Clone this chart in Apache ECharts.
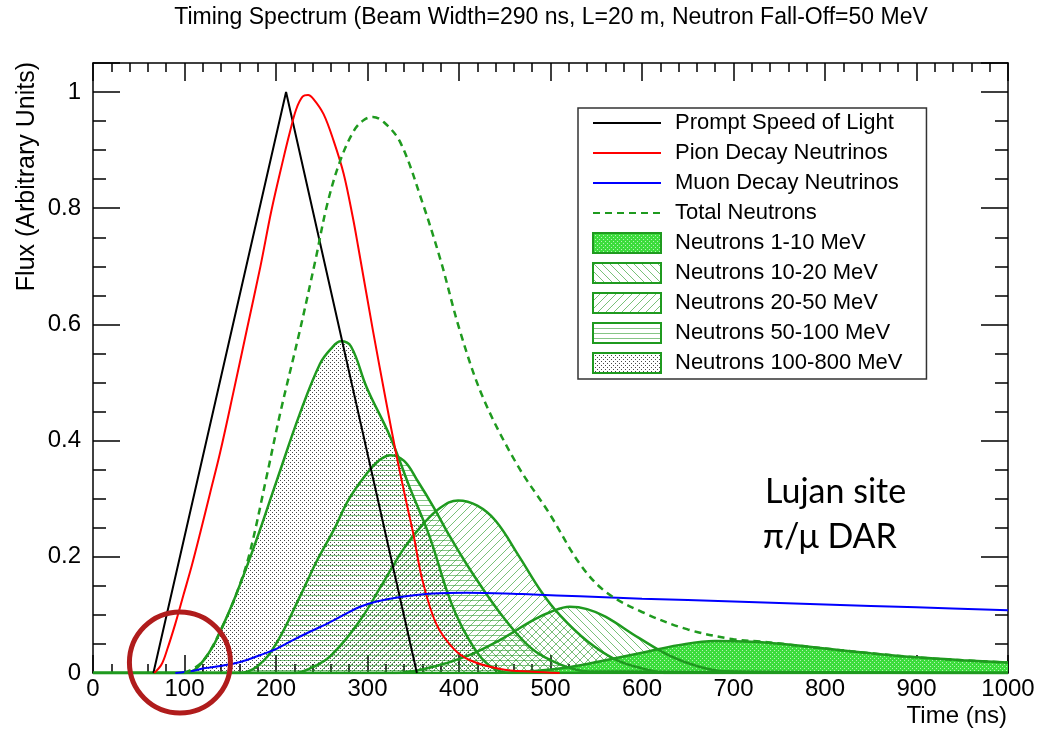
<!DOCTYPE html>
<html>
<head>
<meta charset="utf-8">
<script src="https://cdn.jsdelivr.net/npm/echarts@6/dist/echarts.min.js"></script>
<style>
  html, body { margin: 0; padding: 0; background: #fff; }
  #chart { width: 1039px; height: 729px; }
</style>
</head>
<body>
<div id="chart"></div>
<script>
// ---- data (time in ns, flux in arbitrary units) ----
const promptTime = [66, 211, 354];
const promptFlux = [0, 1.0, 0];

const pionTime = [67, 75, 81, 90, 99, 108, 117, 128, 139, 153, 168, 183, 195, 208, 215, 222, 229, 235, 241, 252, 263, 274, 284, 290, 306, 320, 332, 343, 350, 360, 375, 394, 412, 445, 480, 510];
const pionFlux = [0, 0.015, 0.04, 0.085, 0.135, 0.185, 0.24, 0.31, 0.38, 0.48, 0.59, 0.70, 0.796, 0.885, 0.93, 0.97, 0.992, 0.995, 0.988, 0.962, 0.916, 0.859, 0.784, 0.732, 0.589, 0.47, 0.372, 0.29, 0.24, 0.16, 0.085, 0.042, 0.022, 0.007, 0.002, 0];

const muonTime = [90, 110, 121, 139, 161, 183, 201, 219, 237, 256, 274, 292, 310, 336, 372, 408, 450, 481, 532, 600, 700, 800, 900, 1000];
const muonFlux = [0, 0.004, 0.008, 0.012, 0.019, 0.031, 0.042, 0.057, 0.071, 0.085, 0.1, 0.114, 0.123, 0.131, 0.137, 0.138, 0.137, 0.135, 0.132, 0.128, 0.123, 0.118, 0.113, 0.108];

const totalTime = [100, 120, 143, 160, 172, 190, 205, 226, 243, 256, 270, 285, 296, 306, 318, 336, 360, 380, 401, 426, 463, 499, 532, 560, 600, 650, 700, 730, 760, 800, 850, 900, 950, 1000];
const totalFlux = [0, 0.02, 0.085, 0.15, 0.211, 0.34, 0.45, 0.589, 0.71, 0.807, 0.881, 0.933, 0.952, 0.957, 0.948, 0.913, 0.81, 0.71, 0.589, 0.475, 0.36, 0.274, 0.188, 0.14, 0.105, 0.075, 0.058, 0.054, 0.049, 0.042, 0.034, 0.027, 0.022, 0.018];

const n1to10Time = [0, 430, 480, 520, 560, 600, 640, 680, 720, 760, 800, 850, 900, 950, 1000];
const n1to10Flux = [0, 0, 0.003, 0.01, 0.022, 0.035, 0.048, 0.055, 0.054, 0.049, 0.042, 0.034, 0.027, 0.022, 0.018];

const n10to20Time = [0, 330, 370, 410, 445, 481, 500, 521, 540, 560, 597, 630, 660, 690, 1000];
const n10to20Flux = [0, 0, 0.01, 0.03, 0.057, 0.091, 0.105, 0.114, 0.11, 0.097, 0.06, 0.03, 0.012, 0.003, 0];

const n20to50Time = [0, 220, 240, 260, 292, 315, 340, 360, 380, 399, 420, 440, 466, 490, 510, 540, 570, 600, 630, 1000];
const n20to50Flux = [0, 0, 0.01, 0.03, 0.091, 0.15, 0.215, 0.255, 0.285, 0.297, 0.288, 0.262, 0.2, 0.14, 0.1, 0.055, 0.024, 0.008, 0, 0];

const n50to100Time = [0, 160, 180, 200, 226, 245, 263, 280, 299, 312, 325, 340, 355, 372, 390, 408, 426, 445, 463, 481, 500, 517, 540, 1000];
const n50to100Flux = [0, 0, 0.012, 0.05, 0.131, 0.194, 0.246, 0.3, 0.343, 0.365, 0.375, 0.365, 0.33, 0.286, 0.235, 0.188, 0.145, 0.103, 0.068, 0.04, 0.022, 0.011, 0.003, 0];

const n100to800Time = [0, 100, 120, 143, 172, 201, 226, 248, 260, 271, 282, 299, 325, 346, 368, 387, 397, 410, 425, 440, 455, 1000];
const n100to800Flux = [0, 0, 0.02, 0.085, 0.2, 0.332, 0.446, 0.532, 0.558, 0.571, 0.562, 0.492, 0.406, 0.32, 0.234, 0.14, 0.1, 0.06, 0.025, 0.006, 0, 0];

// highlighted early-time region (centre in data units)
const markerCenter = [[95, 0.018]];

const xTickLabels = ['0', '100', '200', '300', '400', '500', '600', '700', '800', '900', '1000'];
const yTickLabels = { 0: '0', 0.2: '0.2', 0.4: '0.4', 0.6: '0.6', 0.8: '0.8', 1: '1' };

// ---- helpers ----
const zip = (xs, ys) => xs.map((x, i) => [x, ys[i]]);
const FONT = '"Liberation Sans", Arial, Helvetica, sans-serif';
const GREEN = '#1f9a1f';

function pattern(w, h, paint) {
  const c = document.createElement('canvas');
  c.width = w; c.height = h;
  paint(c.getContext('2d'), w, h);
  return { image: c, repeat: 'repeat' };
}
const fillDotsDark = pattern(4, 4, g => {
  g.fillStyle = 'rgba(0,0,0,0.72)';
  g.fillRect(0, 0, 1, 1); g.fillRect(2, 2, 1, 1);
});
const fillDotsGreen = pattern(4, 4, g => {
  g.fillStyle = '#3cdc3c'; g.fillRect(0, 0, 4, 4);
  g.fillStyle = '#b4f4b4';
  g.fillRect(0, 0, 1, 1); g.fillRect(2, 2, 1, 1);
});
const fillHoriz = pattern(4, 5, g => {
  g.fillStyle = 'rgba(34,150,34,0.55)'; g.fillRect(0, 0, 4, 1);
});
function diag(forward) {
  return pattern(8, 8, g => {
    g.strokeStyle = 'rgba(34,150,34,0.6)'; g.lineWidth = 1;
    g.beginPath();
    if (forward) {
      g.moveTo(-1, 9); g.lineTo(9, -1);
      g.moveTo(-1, 1); g.lineTo(1, -1);
      g.moveTo(7, 9); g.lineTo(9, 7);
    } else {
      g.moveTo(-1, -1); g.lineTo(9, 9);
      g.moveTo(-1, 7); g.lineTo(1, 9);
      g.moveTo(7, -1); g.lineTo(9, 1);
    }
    g.stroke();
  });
}
const fillSlash = diag(true);
const fillBackslash = diag(false);

function neutronBand(name, xs, ys, fill) {
  return {
    name, type: 'line', data: zip(xs, ys), symbol: 'none',
    smooth: 0.4,
    lineStyle: { color: GREEN, width: 2.5 },
    itemStyle: { color: GREEN },
    areaStyle: { color: fill, opacity: 1 },
    emphasis: { disabled: true }, silent: true
  };
}
function curve(name, xs, ys, color, extra) {
  return Object.assign({
    name, type: 'line', data: zip(xs, ys), symbol: 'none',
    lineStyle: { color, width: 2 }, itemStyle: { color },
    emphasis: { disabled: true }, silent: true
  }, extra || {});
}

const tickStyle = { color: '#000', width: 1.5 };
const lineStyle = { color: '#000', width: 1.5 };
function xAx(pos, labels) {
  return {
    type: 'value', position: pos, min: 0, max: 1000, interval: 100,
    axisLine: { show: true, onZero: false, lineStyle },
    axisTick: { show: true, inside: true, length: 18, lineStyle: tickStyle },
    minorTick: { show: true, splitNumber: 5, length: 9, lineStyle: tickStyle },
    axisLabel: {
      show: labels, margin: 4, fontSize: 24, color: '#000', fontFamily: FONT,
      formatter: v => xTickLabels[Math.round(v / 100)]
    },
    splitLine: { show: false }, minorSplitLine: { show: false }
  };
}
function yAx(pos, major, labels) {
  return {
    type: 'value', position: pos, min: 0, max: 1.05,
    interval: major ? 0.2 : 0.05,
    axisLine: { show: major, onZero: false, lineStyle },
    axisTick: { show: true, inside: true, length: major ? 27 : 13, lineStyle: tickStyle },
    axisLabel: {
      show: labels, margin: 12, fontSize: 24, color: '#000', fontFamily: FONT,
      formatter: v => { const k = Math.round(v * 10) / 10; return (k in yTickLabels && Math.abs(v - k) < 1e-6) ? yTickLabels[k] : ''; }
    },
    splitLine: { show: false }
  };
}

// line-type legend entries: keep only the stroke sample
const lineEntry = name => ({ name, itemStyle: { opacity: 0 } });
const bandEntry = (name, fill) => ({ name, icon: 'rect', itemStyle: { color: fill, borderColor: GREEN, borderWidth: 2 } });

const chart = echarts.init(document.getElementById('chart'), null, { renderer: 'canvas' });
chart.setOption({
  backgroundColor: '#fff',
  animation: false,
  grid: { left: 93, right: 31, top: 63, bottom: 56, containLabel: false },
  xAxis: [xAx('bottom', true), xAx('top', false)],
  yAxis: [yAx('left', true, true), yAx('left', false, false), yAx('right', true, false), yAx('right', false, false)],
  legend: {
    left: 578, top: 108, orient: 'vertical',
    itemWidth: 68, itemHeight: 20, itemGap: 8,
    padding: [4, 24, 5, 14],
    borderColor: '#333', borderWidth: 1.5, backgroundColor: '#fff',
    selectedMode: false,
    textStyle: { fontSize: 22, color: '#000', fontFamily: FONT, padding: [0, 0, 0, 9] },
    data: [
      lineEntry('Prompt Speed of Light'),
      lineEntry('Pion Decay Neutrinos'),
      lineEntry('Muon Decay Neutrinos'),
      lineEntry('Total Neutrons'),
      bandEntry('Neutrons 1-10 MeV', fillDotsGreen),
      bandEntry('Neutrons 10-20 MeV', fillBackslash),
      bandEntry('Neutrons 20-50 MeV', fillSlash),
      bandEntry('Neutrons 50-100 MeV', fillHoriz),
      bandEntry('Neutrons 100-800 MeV', fillDotsDark)
    ]
  },
  series: [
    neutronBand('Neutrons 100-800 MeV', n100to800Time, n100to800Flux, fillDotsDark),
    neutronBand('Neutrons 50-100 MeV', n50to100Time, n50to100Flux, fillHoriz),
    neutronBand('Neutrons 20-50 MeV', n20to50Time, n20to50Flux, fillSlash),
    neutronBand('Neutrons 10-20 MeV', n10to20Time, n10to20Flux, fillBackslash),
    neutronBand('Neutrons 1-10 MeV', n1to10Time, n1to10Flux, fillDotsGreen),
    curve('Prompt Speed of Light', promptTime, promptFlux, '#000000'),
    curve('Pion Decay Neutrinos', pionTime, pionFlux, '#ff0000', { smooth: 0.35 }),
    curve('Muon Decay Neutrinos', muonTime, muonFlux, '#0000ff', { smooth: 0.35 }),
    curve('Total Neutrons', totalTime, totalFlux, GREEN, {
      smooth: 0.35,
      lineStyle: { color: GREEN, width: 2.5, type: [7, 5] }
    }),
    {
      name: 'marker', type: 'scatter', data: markerCenter, symbol: 'circle', symbolSize: 101,
      clip: false, z: 10, silent: true,
      itemStyle: { color: 'rgba(0,0,0,0)', borderColor: '#b01c1c', borderWidth: 5, opacity: 1 },
      emphasis: { disabled: true }
    }
  ],
  graphic: [
    { type: 'text', x: 551, y: 18, silent: true,
      style: { text: 'Timing Spectrum (Beam Width=290 ns, L=20 m, Neutron Fall-Off=50 MeV',
        fontSize: 23, fontFamily: FONT, fill: '#000',
        textAlign: 'center', align: 'center', textVerticalAlign: 'middle', verticalAlign: 'middle' } },
    { type: 'text', x: 27, y: 62, rotation: Math.PI / 2, silent: true,
      style: { text: 'Flux (Arbitrary Units)', fontSize: 25, fontFamily: FONT, fill: '#000',
        textAlign: 'right', align: 'right', textVerticalAlign: 'middle', verticalAlign: 'middle' } },
    { type: 'text', x: 1007, y: 716, silent: true,
      style: { text: 'Time (ns)', fontSize: 24, fontFamily: FONT, fill: '#000',
        textAlign: 'right', align: 'right', textVerticalAlign: 'middle', verticalAlign: 'middle' } },
    { type: 'text', x: 765, y: 492, silent: true,
      style: { text: 'Lujan site', fontSize: 34, fontFamily: 'Lato, "Open Sans", sans-serif', fill: '#000',
        textAlign: 'left', align: 'left', textVerticalAlign: 'middle', verticalAlign: 'middle' } },
    { type: 'text', x: 763, y: 537, silent: true,
      style: { text: 'π/μ DAR', fontSize: 34, fontFamily: 'Lato, "Open Sans", sans-serif', fill: '#000',
        textAlign: 'left', align: 'left', textVerticalAlign: 'middle', verticalAlign: 'middle' } }
  ]
});
</script>
</body>
</html>
